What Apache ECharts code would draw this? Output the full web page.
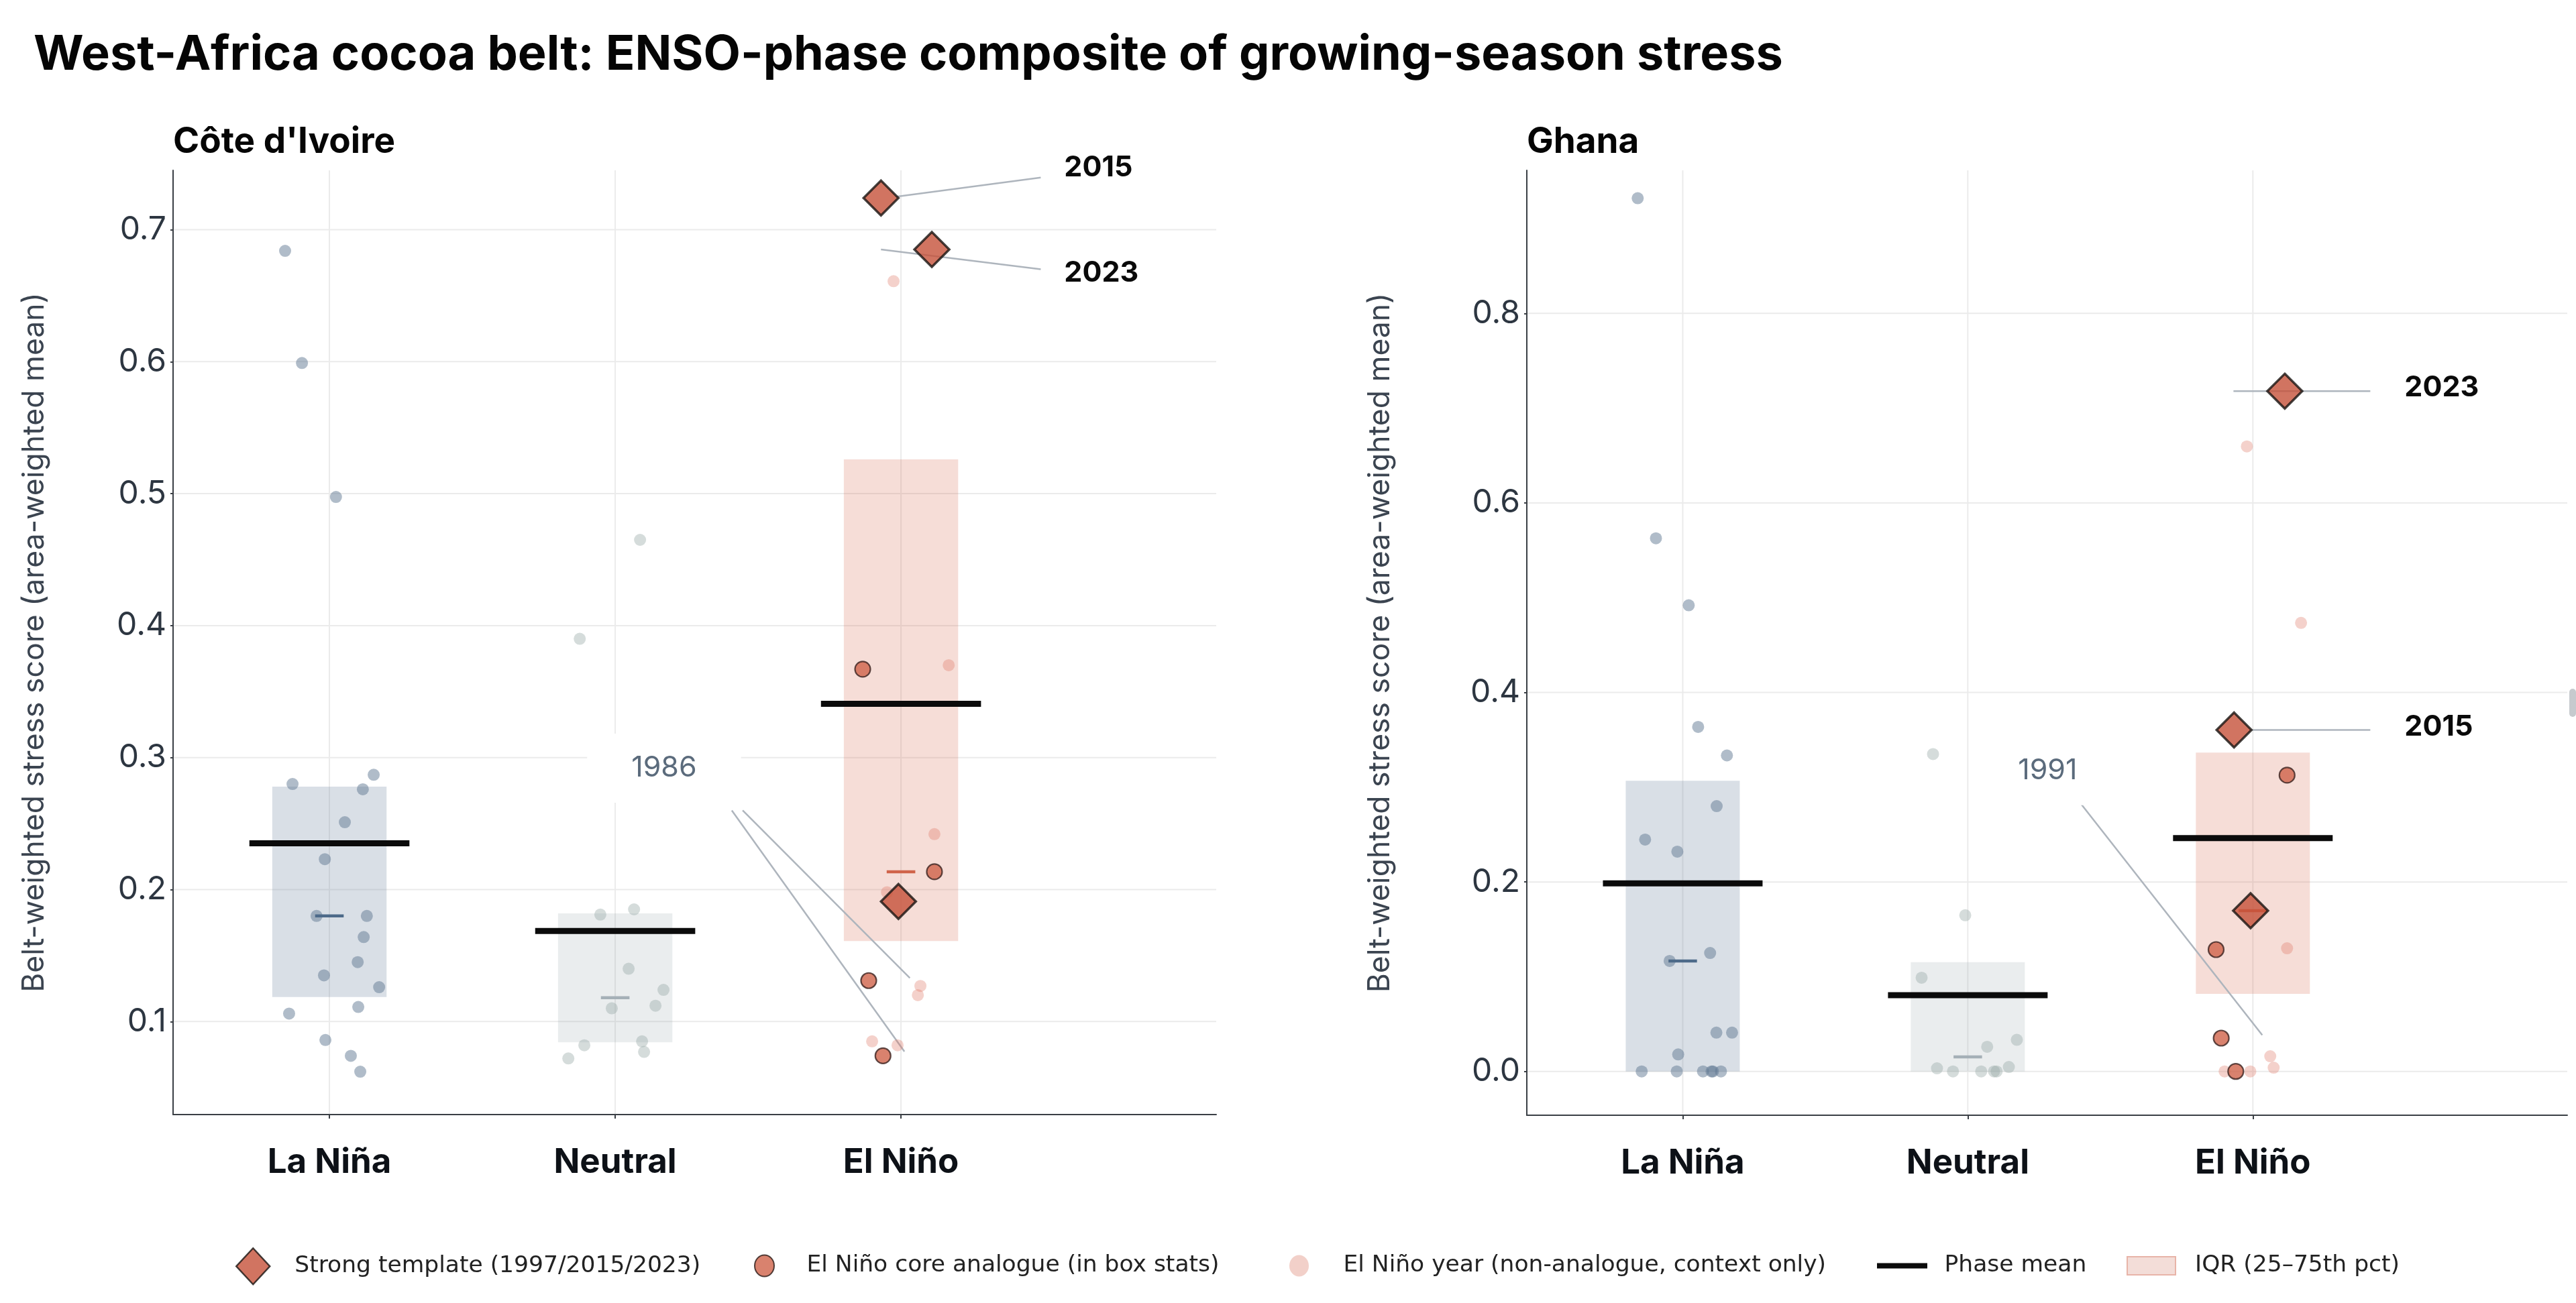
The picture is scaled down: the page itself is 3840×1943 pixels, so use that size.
<!DOCTYPE html>
<html>
<head>
<meta charset="utf-8">
<script src="https://cdn.jsdelivr.net/npm/echarts@6/dist/echarts.min.js"></script>
<style>html,body{margin:0;padding:0;background:#fff}#chart{width:3840px;height:1943px}</style>
</head>
<body>
<div id="chart"></div>
<script>
var phases = ['La Niña', 'Neutral', 'El Niño'];

// Côte d'Ivoire: scores and horizontal jitter (category units)
var ciLaNina = [0.684, 0.599, 0.4975, 0.287, 0.280, 0.276, 0.251, 0.223, 0.180, 0.180, 0.164, 0.145, 0.135, 0.126, 0.111, 0.106, 0.086, 0.074, 0.062];
var ciLaNinaJit = [-0.155, -0.096, 0.023, 0.155, -0.129, 0.117, 0.054, -0.016, -0.045, 0.131, 0.120, 0.099, -0.019, 0.174, 0.101, -0.141, -0.014, 0.075, 0.108];
var ciNeutral = [0.465, 0.390, 0.185, 0.181, 0.140, 0.124, 0.112, 0.110, 0.085, 0.082, 0.077, 0.072];
var ciNeutralJit = [0.087, -0.124, 0.066, -0.052, 0.047, 0.169, 0.141, -0.012, 0.094, -0.108, 0.101, -0.164];
var ciStrong = [0.724, 0.685, 0.191];          // 2015, 2023, 1997
var ciStrongJit = [-0.070, 0.108, -0.009];
var ciCore = [0.367, 0.2135, 0.131, 0.074];
var ciCoreJit = [-0.134, 0.117, -0.113, -0.063];
var ciOther = [0.661, 0.370, 0.242, 0.198, 0.127, 0.120, 0.085, 0.082];
var ciOtherJit = [-0.026, 0.167, 0.117, -0.049, 0.068, 0.059, -0.101, -0.012];
var ciTicks = [0.1, 0.2, 0.3, 0.4, 0.5, 0.6, 0.7];
var ciNoteText = ['2015', '2023', '1986'];
var ciNoteAt = [[2.571, 0.747], [2.571, 0.667], [1.171, 0.292]];
var ciLeaders = [[1.984, 0.725, 2.489, 0.7395], [1.930, 0.685, 2.489, 0.670], [1.408, 0.260, 2.012, 0.0773], [1.446, 0.260, 2.031, 0.133]];

// Ghana
var ghLaNina = [0.9216, 0.5627, 0.492, 0.3636, 0.3335, 0.280, 0.2447, 0.232, 0.125, 0.1166, 0.041, 0.041, 0.018, 0, 0, 0, 0, 0, 0];
var ghLaNinaJit = [-0.158, -0.094, 0.021, 0.054, 0.155, 0.119, -0.132, -0.019, 0.096, -0.046, 0.118, 0.173, -0.016, -0.144, -0.021, 0.071, 0.101, 0.106, 0.134];
var ghNeutral = [0.335, 0.299, 0.1648, 0.0989, 0.0334, 0.026, 0.0047, 0.0033, 0, 0, 0, 0];
var ghNeutralJit = [-0.122, 0.089, -0.009, -0.162, 0.172, 0.068, 0.144, -0.108, -0.052, 0.047, 0.092, 0.101];
var ghStrong = [0.7179, 0.3604, 0.1697];       // 2023, 2015, 1997
var ghStrongJit = [0.112, -0.066, -0.008];
var ghCore = [0.3127, 0.1286, 0.0352, 0.0];
var ghCoreJit = [0.12, -0.129, -0.111, -0.06];
var ghOther = [0.6596, 0.4734, 0.130, 0.016, 0.004, 0, 0];
var ghOtherJit = [-0.021, 0.169, 0.12, 0.061, 0.073, -0.099, -0.009];
var ghTicks = [0, 0.2, 0.4, 0.6, 0.8];
var ghNoteText = ['2023', '2015', '1991'];
var ghNoteAt = [[2.532, 0.7215], [2.532, 0.3637], [1.28, 0.3174]];
var ghLeaders = [[1.932, 0.7179, 2.412, 0.7179], [1.995, 0.3604, 2.412, 0.3604], [1.381, 0.2886, 2.033, 0.0384]];

var boxColors = ['rgba(95,120,150,0.24)', 'rgba(140,155,160,0.18)', 'rgba(214,100,75,0.22)'];
var medianColors = ['#4d6a89', '#a5b0b7', '#d0634a'];
var dotColors = ['rgba(95,120,145,0.62)', 'rgba(150,168,165,0.5)'];
var FONT = 'Inter, "Noto Sans", sans-serif';

function quantile(s, p) {
	var idx = p * (s.length - 1), lo = Math.floor(idx), hi = Math.ceil(idx);
	return s[lo] + (s[hi] - s[lo]) * (idx - lo);
}
function stats(vals) {
	var s = vals.slice().sort(function(a, b) { return a - b; });
	var sum = 0;
	for (var i = 0; i < s.length; i++) sum += s[i];
	return { q1: quantile(s, 0.25), median: quantile(s, 0.5), q3: quantile(s, 0.75), mean: sum / s.length };
}
function points(cat, vals, jit) {
	return vals.map(function(v, i) { return [cat + jit[i], v]; });
}

function gridRow(params, api) {
	var cs = params.coordSys, y = api.coord([0, api.value(1)])[1];
	return { type: 'line', shape: { x1: cs.x, y1: y, x2: cs.x + cs.width, y2: y }, style: { stroke: '#ebebeb', lineWidth: 2 } };
}
function gridCol(params, api) {
	var cs = params.coordSys, x = api.coord([api.value(0), 0])[0];
	return { type: 'line', shape: { x1: x, y1: cs.y, x2: x, y2: cs.y + cs.height }, style: { stroke: '#ebebeb', lineWidth: 2 } };
}
function renderBox(params, api) {
	var i = api.value(0);
	var a = api.coord([i - 0.2, api.value(1)]), b = api.coord([i + 0.2, api.value(2)]);
	return { type: 'rect', shape: { x: a[0], y: b[1], width: b[0] - a[0], height: a[1] - b[1] }, style: { fill: boxColors[i] } };
}
function hLine(half, colors, width) {
	return function(params, api) {
		var i = api.value(0), y = api.value(1);
		var a = api.coord([i - half, y]), b = api.coord([i + half, y]);
		return { type: 'line', shape: { x1: a[0], y1: a[1], x2: b[0], y2: b[1] }, style: { stroke: colors[i], lineWidth: width } };
	};
}
function renderLeader(params, api) {
	var a = api.coord([api.value(0), api.value(1)]), b = api.coord([api.value(2), api.value(3)]);
	return { type: 'line', shape: { x1: a[0], y1: a[1], x2: b[0], y2: b[1] }, style: { stroke: '#aeb5bd', lineWidth: 2.5 } };
}
function noteRenderer(texts) {
	return function(params, api) {
		var p = api.coord([api.value(0), api.value(1)]);
		var t = texts[params.dataIndex];
		var strong = /^20/.test(t);
		return { type: 'text', x: p[0], y: p[1], style: {
			text: t, fontFamily: FONT, fontSize: 43, fontWeight: strong ? 'bold' : 'normal',
			fill: strong ? '#0a0a0a' : '#5b6b7c', align: strong ? 'left' : 'center', verticalAlign: 'middle',
			backgroundColor: strong ? null : '#fff', padding: strong ? 0 : [30, 66, 30, 66]
		} };
	};
}

function panelSeries(g, d) {
	var st = [stats(d.laNina), stats(d.neutral), stats(d.strong.concat(d.core))];
	var list = [
		{ type: 'custom', z: 1, renderItem: gridRow, data: d.ticks.map(function(t) { return [0, t]; }) },
		{ type: 'custom', z: 1, renderItem: gridCol, data: [[0, 0], [1, 0], [2, 0]] },
		{ type: 'custom', name: 'IQR (25–75th pct)', z: 2, renderItem: renderBox, encode: { x: 0, y: [1, 2] },
			itemStyle: { color: '#f3ddd8' }, data: st.map(function(s, i) { return [i, s.q1, s.q3]; }) },
		{ type: 'custom', z: 3, renderItem: renderLeader, encode: { x: [0, 2], y: [1, 3] }, data: d.leaders },
		{ type: 'scatter', name: 'La Niña', z: 4, symbolSize: 18, itemStyle: { color: dotColors[0] }, data: points(0, d.laNina, d.laNinaJit) },
		{ type: 'scatter', name: 'Neutral', z: 4, symbolSize: 18, itemStyle: { color: dotColors[1] }, data: points(1, d.neutral, d.neutralJit) },
		{ type: 'scatter', name: 'El Niño year (non-analogue, context only)', z: 4, symbolSize: 18,
			itemStyle: { color: 'rgba(222,120,100,0.42)' }, data: points(2, d.other, d.otherJit) },
		{ type: 'custom', z: 5, renderItem: hLine(0.05, medianColors, 4.5), data: st.map(function(s, i) { return [i, s.median]; }) },
		{ type: 'custom', name: 'Phase mean', z: 5, renderItem: hLine(0.28, ['#0b0b0b', '#0b0b0b', '#0b0b0b'], 9),
			itemStyle: { color: '#0b0b0b' }, data: st.map(function(s, i) { return [i, s.mean]; }) },
		{ type: 'scatter', name: 'El Niño core analogue (in box stats)', z: 6, symbolSize: 23,
			itemStyle: { color: '#d0634a', borderColor: '#3b2320', borderWidth: 2.2 }, data: points(2, d.core, d.coreJit) },
		{ type: 'scatter', name: 'Strong template (1997/2015/2023)', z: 7, symbol: 'diamond', symbolSize: 52,
			itemStyle: { color: '#c6513a', borderColor: '#181412', borderWidth: 3.5 }, data: points(2, d.strong, d.strongJit) },
		{ type: 'custom', z: 8, renderItem: noteRenderer(d.noteText), data: d.noteAt }
	];
	list.forEach(function(s) { s.xAxisIndex = g; s.yAxisIndex = g; s.silent = true; });
	return list;
}

function makeX(g) {
	return {
		type: 'value', gridIndex: g, min: -0.547, max: 3.103, z: 10,
		axisLine: { show: true, onZero: false, lineStyle: { color: '#3a3f45', width: 2 } },
		axisTick: { show: true, customValues: [0, 1, 2], length: 6, lineStyle: { color: '#3a3f45', width: 2 } },
		axisLabel: { customValues: [0, 1, 2], margin: 46, fontFamily: FONT, fontWeight: 'bold', fontSize: 51, color: '#0d1117',
			formatter: function(v) { return phases[Math.round(v)]; } },
		splitLine: { show: false }
	};
}
function makeY(g, min, max, ticks, gap) {
	return {
		type: 'value', gridIndex: g, min: min, max: max, z: 10,
		name: 'Belt-weighted stress score (area-weighted mean)', nameLocation: 'middle', nameRotate: 90, nameGap: gap,
		nameTextStyle: { fontFamily: FONT, fontSize: 44.5, color: '#3b4450' },
		axisLine: { show: true, onZero: false, lineStyle: { color: '#3a3f45', width: 2 } },
		axisTick: { show: true, customValues: ticks, length: 4, lineStyle: { color: '#3a3f45', width: 2 } },
		axisLabel: { customValues: ticks, margin: 10, fontFamily: FONT, fontSize: 48, color: '#2d3641',
			formatter: function(v) { return v.toFixed(1); } },
		splitLine: { show: false }
	};
}

var legendItems = [
	{ name: 'Strong template (1997/2015/2023)', left: 351, top: 1860, w: 114, h: 54, icon: 'path://M25,0L50,27L25,54L0,27Z',
		style: { color: '#c6513a', borderColor: '#181412', borderWidth: 2.5 } },
	{ name: 'El Niño core analogue (in box stats)', left: 1124, top: 1870, w: 116, h: 32, icon: 'path://M14.5,0A14.5,16 0 1 1 14.5,32A14.5,16 0 1 1 14.5,0Z',
		style: { color: '#d0634a', borderColor: '#2a1a17', borderWidth: 2 } },
	{ name: 'El Niño year (non-analogue, context only)', left: 1922, top: 1870, w: 122, h: 32, icon: 'path://M14.5,0A14.5,16 0 1 1 14.5,32A14.5,16 0 1 1 14.5,0Z',
		style: { color: '#efc4bb', borderWidth: 0 } },
	{ name: 'Phase mean', left: 2798, top: 1870, w: 116, h: 8, icon: 'path://M0,0H75V8H0Z',
		style: { color: '#0b0b0b', borderWidth: 0 } },
	{ name: 'IQR (25–75th pct)', left: 3170, top: 1870, w: 120, h: 27, icon: 'path://M0,0H72V27H0Z',
		style: { color: '#f3ddd8', borderColor: '#e8b4a8', borderWidth: 2 } }
];

var ciData = { laNina: ciLaNina, laNinaJit: ciLaNinaJit, neutral: ciNeutral, neutralJit: ciNeutralJit, strong: ciStrong, strongJit: ciStrongJit,
	core: ciCore, coreJit: ciCoreJit, other: ciOther, otherJit: ciOtherJit, ticks: ciTicks, noteText: ciNoteText, noteAt: ciNoteAt, leaders: ciLeaders };
var ghData = { laNina: ghLaNina, laNinaJit: ghLaNinaJit, neutral: ghNeutral, neutralJit: ghNeutralJit, strong: ghStrong, strongJit: ghStrongJit,
	core: ghCore, coreJit: ghCoreJit, other: ghOther, otherJit: ghOtherJit, ticks: ghTicks, noteText: ghNoteText, noteAt: ghNoteAt, leaders: ghLeaders };

var myChart = echarts.init(document.getElementById('chart'), null, { renderer: 'canvas' });
var option = {
	backgroundColor: '#fff',
	animation: false,
	title: [
		{ text: 'West-Africa cocoa belt: ENSO-phase composite of growing-season stress', left: 50, top: 46, padding: 0,
			textStyle: { fontFamily: FONT, fontWeight: 'bold', fontSize: 72, color: '#050505' } },
		{ text: "Côte d'Ivoire", left: 258, top: 186, padding: 0, textStyle: { fontFamily: FONT, fontWeight: 'bold', fontSize: 53, color: '#050505' } },
		{ text: 'Ghana', left: 2276, top: 186, padding: 0, textStyle: { fontFamily: FONT, fontWeight: 'bold', fontSize: 53, color: '#050505' } }
	],
	legend: legendItems.map(function(it) {
		return {
			left: it.left, top: it.top, padding: 0, itemGap: 0, itemWidth: it.w, itemHeight: it.h, selectedMode: false,
			textStyle: { fontFamily: '"DejaVu Sans"', fontSize: 34.5, color: '#222' },
			data: [{ name: it.name, icon: it.icon, itemStyle: it.style }]
		};
	}),
	grid: [
		{ left: 258, top: 254, width: 1555, height: 1408, outerBoundsMode: 'none' },
		{ left: 2276, top: 254, width: 1551, height: 1409, outerBoundsMode: 'none' }
	],
	xAxis: [makeX(0), makeX(1)],
	yAxis: [makeY(0, 0.0295, 0.745, ciTicks, 184), makeY(1, -0.0462, 0.951, ghTicks, 196)],
	series: panelSeries(0, ciData).concat(panelSeries(1, ghData)),
	graphic: [{ type: 'rect', left: 3830, top: 1027, shape: { width: 10, height: 42, r: 5 }, style: { fill: '#c6cace' } }]
};
myChart.setOption(option);
</script>
</body>
</html>
